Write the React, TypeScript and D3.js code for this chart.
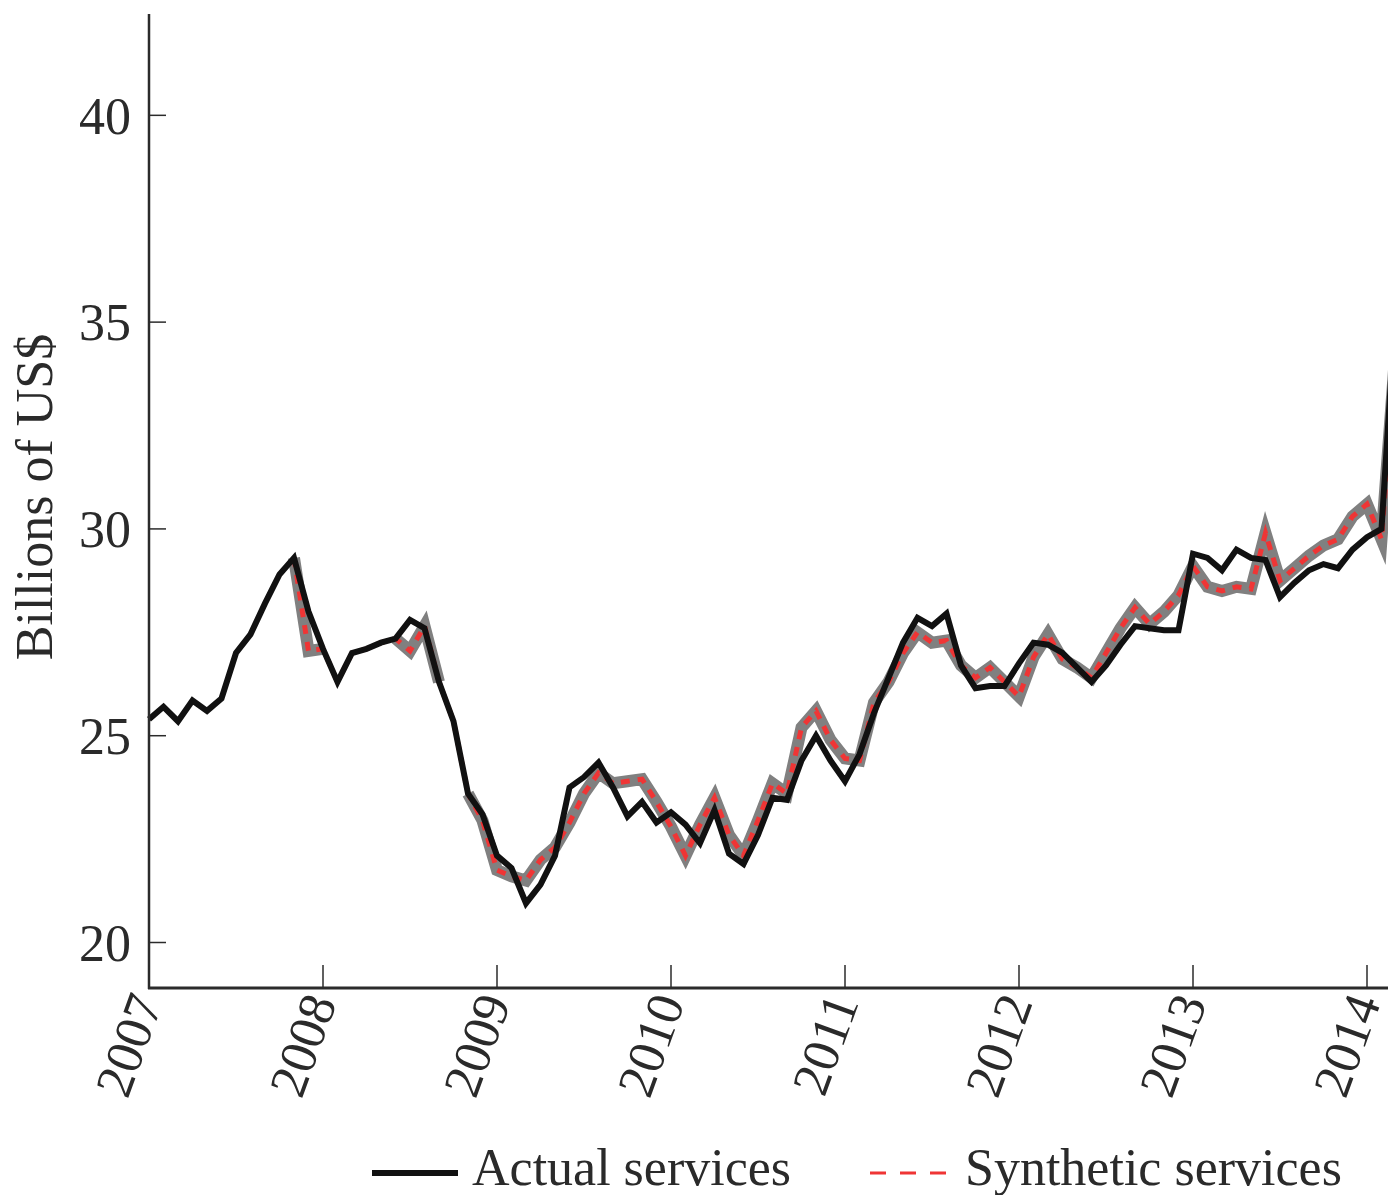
import React from "react";
import * as d3 from "d3";

// Monthly series, January 2007 onwards (billions of US$)
const actualServices = [
  25.4, 25.7, 25.35, 25.85, 25.6, 25.9, 27.0, 27.45, 28.2, 28.9, 29.3, 28.0,
  27.1, 26.3, 27.0, 27.1, 27.25, 27.35, 27.8, 27.6, 26.3, 25.35, 23.6, 23.1,
  22.1, 21.8, 20.95, 21.4, 22.1, 23.75, 24.0, 24.35, 23.75, 23.05, 23.4, 22.9,
  23.15, 22.85, 22.4, 23.2, 22.15, 21.9, 22.6, 23.5, 23.45, 24.4, 25.0, 24.4,
  23.9, 24.55, 25.55, 26.4, 27.25, 27.85, 27.65, 27.95, 26.7, 26.15, 26.2, 26.2,
  26.75, 27.25, 27.2, 27.0, 26.65, 26.3, 26.7, 27.2, 27.65, 27.6, 27.55, 27.55,
  29.4, 29.3, 29.0, 29.5, 29.3, 29.25, 28.35, 28.7, 29.0, 29.15, 29.05, 29.5,
  29.8, 30.0, 35.5,
];

const syntheticServices = [
  25.4, 25.7, 25.35, 25.85, 25.6, 25.9, 27.0, 27.45, 28.2, 28.9, 29.3, 27.05,
  27.1, 26.3, 27.0, 27.1, 27.25, 27.35, 27.05, 27.65, 26.3, 25.35, 23.6, 22.95,
  21.75, 21.6, 21.5, 22.0, 22.3, 22.9, 23.6, 24.1, 23.85, 23.9, 23.95, 23.4,
  22.8, 22.1, 22.85, 23.5, 22.6, 22.1, 22.95, 23.85, 23.6, 25.2, 25.6, 24.9,
  24.45, 24.4, 25.8, 26.3, 27.0, 27.5, 27.25, 27.3, 26.7, 26.4, 26.65, 26.3,
  25.95, 26.9, 27.45, 26.85, 26.65, 26.4, 27.0, 27.6, 28.1, 27.7, 28.0, 28.4,
  29.1, 28.6, 28.5, 28.6, 28.55, 29.9, 28.75, 29.05, 29.35, 29.6, 29.75, 30.3,
  30.6, 29.75, 34.5,
];

const startYear = 2007;
const treatmentIndex = 10;
const yearTicks = [2007, 2008, 2009, 2010, 2011, 2012, 2013, 2014];
const valueTicks = [20, 25, 30, 35, 40];
const yAxisTitle = "Billions of US$";
const legendItems = ["Actual services", "Synthetic services"];

const W = 1393;
const H = 1195;
const FONT = "'Liberation Serif', 'Times New Roman', serif";
const FS = 52;

export default function App() {
  const x = d3.scaleLinear().domain([2007, 2014]).range([149, 1367]);
  const y = d3.scaleLinear().domain([18.9, 42.45]).range([988, 14]);

  const t = (i: number) => startYear + i / 12;
  const differs = (j: number) =>
    j >= 0 &&
    j < actualServices.length &&
    Math.abs(actualServices[j] - syntheticServices[j]) > 0.02;

  const line = d3
    .line<number>()
    .x((_, i) => x(t(i)))
    .y((d) => y(d));

  const bandLine = d3
    .line<number>()
    .defined(
      (_, i) => i >= treatmentIndex && (differs(i - 1) || differs(i) || differs(i + 1))
    )
    .x((_, i) => x(t(i)))
    .y((d) => y(d));

  const synthPost = d3
    .line<number>()
    .defined((_, i) => i >= treatmentIndex)
    .x((_, i) => x(t(i)))
    .y((d) => y(d));

  const axisColor = "#2b2b2b";
  const textColor = "#2a2a2a";

  return (
    <svg
      width={W}
      height={H}
      style={{ position: "absolute", left: 0, top: 0, background: "#fff" }}
    >
      <defs>
        <clipPath id="plotClip">
          <rect x={0} y={0} width={1388} height={H} />
        </clipPath>
      </defs>
      <rect width={W} height={H} fill="#fff" />

      <g clipPath="url(#plotClip)">
        {/* spread of synthetic estimates */}
        <path
          d={bandLine(syntheticServices) || ""}
          fill="none"
          stroke="#808080"
          strokeWidth={12}
          strokeLinejoin="miter"
          strokeMiterlimit={5}
        />
        {/* synthetic counterfactual */}
        <path
          d={synthPost(syntheticServices) || ""}
          fill="none"
          stroke="#ef3535"
          strokeWidth={5}
          strokeDasharray="9 8"
        />
        {/* actual series */}
        <path
          d={line(actualServices) || ""}
          fill="none"
          stroke="#111"
          strokeWidth={6}
          strokeLinejoin="miter"
          strokeMiterlimit={4}
        />

        {/* axes */}
        <line x1={149} x2={149} y1={14} y2={989} stroke={axisColor} strokeWidth={2.5} />
        <line x1={148} x2={W} y1={988} y2={988} stroke={axisColor} strokeWidth={3} />

        {valueTicks.map((v) => (
          <g key={v}>
            <line x1={149} x2={166} y1={y(v)} y2={y(v)} stroke={axisColor} strokeWidth={1.5} />
            <text
              x={131}
              y={y(v)}
              dy="0.35em"
              textAnchor="end"
              fontFamily={FONT}
              fontSize={FS}
              fill={textColor}
            >
              {v}
            </text>
          </g>
        ))}

        {yearTicks.map((yr) => (
          <g key={yr}>
            <line x1={x(yr)} x2={x(yr)} y1={988} y2={965} stroke={axisColor} strokeWidth={1.5} />
            <text
              transform={`translate(${x(yr) - 3},${996}) rotate(-70)`}
              textAnchor="end"
              dy="0.35em"
              fontFamily={FONT}
              fontSize={FS}
              fill={textColor}
            >
              {yr}
            </text>
          </g>
        ))}
      </g>

      <text
        transform={`translate(52,${497}) rotate(-90)`}
        textAnchor="middle"
        fontFamily={FONT}
        fontSize={FS}
        fill={textColor}
      >
        {yAxisTitle}
      </text>

      {/* legend */}
      <g>
        <line x1={372} x2={458} y1={1173} y2={1173} stroke="#111" strokeWidth={6} />
        <text x={472} y={1185} fontFamily={FONT} fontSize={FS} fill={textColor}>
          {legendItems[0]}
        </text>
        <line
          x1={870}
          x2={946}
          y1={1173}
          y2={1173}
          stroke="#ef3535"
          strokeWidth={3}
          strokeDasharray="16 14"
        />
        <text x={965} y={1185} fontFamily={FONT} fontSize={FS} fill={textColor}>
          {legendItems[1]}
        </text>
      </g>
    </svg>
  );
}
